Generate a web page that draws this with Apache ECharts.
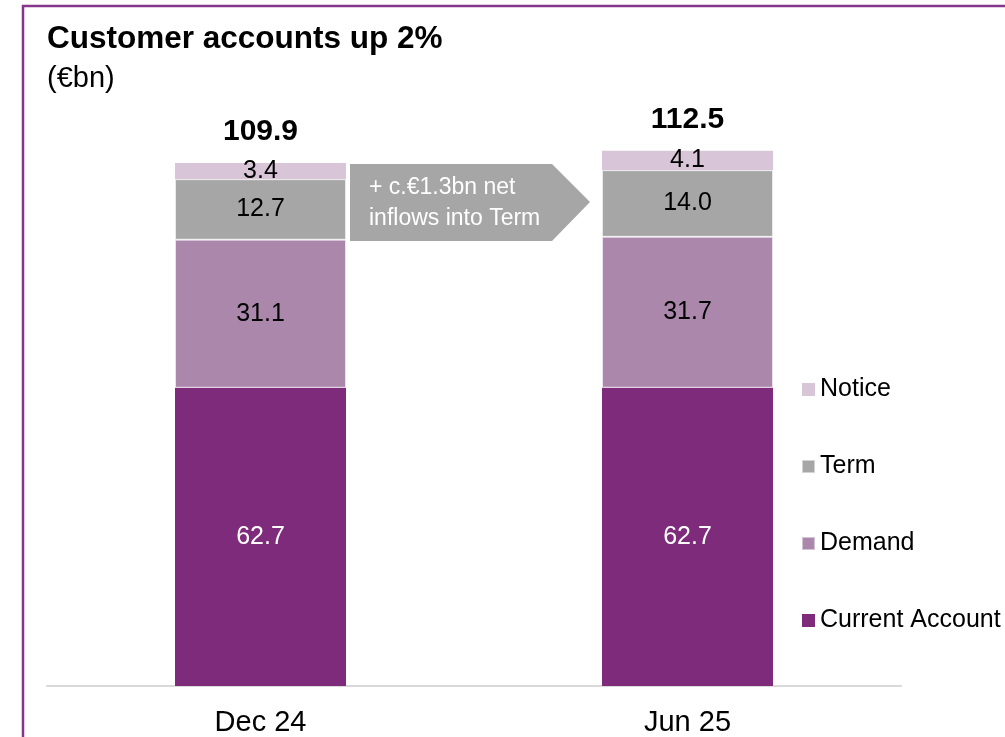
<!DOCTYPE html>
<html>
<head>
<meta charset="utf-8">
<script src="https://cdn.jsdelivr.net/npm/echarts@6/dist/echarts.min.js"></script>
<style>
  html, body { margin: 0; padding: 0; background: #fff; }
  #main { width: 1005px; height: 737px; }
</style>
</head>
<body>
<div id="main"></div>
<script>
// data
const categories = ['Dec 24', 'Jun 25']
const currentAccount = [62.7, 62.7]
const demand = [31.1, 31.7]
const term = [12.7, 14.0]
const notice = [3.4, 4.1]
const totals = [109.9, 112.5]

const FONT = '"Liberation Sans", Arial, sans-serif'

const oneDecimal = (p) => Number(p.value).toFixed(1)

const segLabel = (color) => ({
    show: true,
    position: 'inside',
    color: color,
    fontSize: 25,
    fontFamily: FONT,
    formatter: oneDecimal
})

var chartDom = document.getElementById('main')
var myChart = echarts.init(chartDom)

let option = {
    animation: false,
    backgroundColor: '#fff',
    textStyle: { fontFamily: FONT },
    grid: {
        left: 47,
        right: 104,
        top: 115,
        bottom: 51,
        containLabel: false
    },
    legend: {
        orient: 'vertical',
        left: 801,
        top: 377,
        padding: 0,
        itemWidth: 13,
        itemHeight: 13,
        itemGap: 52,
        icon: 'rect',
        selectedMode: false,
        data: ['Notice', 'Term', 'Demand', 'Current Account'],
        textStyle: {
            fontSize: 25,
            color: '#000',
            fontFamily: FONT,
            lineHeight: 25
        }
    },
    xAxis: {
        type: 'category',
        data: categories,
        axisLine: { show: true, lineStyle: { color: '#D9D9D9', width: 2 } },
        axisTick: { show: false },
        axisLabel: {
            fontSize: 29,
            color: '#000',
            margin: 22,
            fontFamily: FONT
        }
    },
    yAxis: {
        type: 'value',
        min: 0,
        max: 120,
        show: false,
        splitLine: { show: false }
    },
    series: [
        {
            name: 'Current Account',
            type: 'bar',
            stack: 'total',
            barWidth: 171,
            data: currentAccount,
            itemStyle: { color: '#7F2B7B' },
            label: segLabel('#fff')
        },
        {
            name: 'Demand',
            type: 'bar',
            stack: 'total',
            data: demand,
            itemStyle: { color: '#AB88AB', borderColor: 'rgba(255,255,255,0.5)', borderWidth: 1 },
            label: segLabel('#000')
        },
        {
            name: 'Term',
            type: 'bar',
            stack: 'total',
            data: term,
            itemStyle: { color: '#A6A6A6', borderColor: 'rgba(255,255,255,0.5)', borderWidth: 1 },
            label: segLabel('#000')
        },
        {
            name: 'Notice',
            type: 'bar',
            stack: 'total',
            data: notice,
            itemStyle: { color: '#D8C5D8' },
            label: segLabel('#000')
        },
        {
            // invisible bar just to carry the totals on top
            name: 'Total',
            type: 'bar',
            barGap: '-100%',
            barWidth: 171,
            z: 0,
            data: totals,
            itemStyle: { color: 'transparent' },
            label: {
                show: true,
                position: 'top',
                distance: 16,
                fontSize: 30,
                fontWeight: 'bold',
                color: '#000',
                fontFamily: FONT,
                formatter: oneDecimal
            },
            silent: true
        }
    ],
    graphic: [
        {
            // purple frame of the slide box
            type: 'rect',
            shape: { x: 23, y: 6, width: 1100, height: 900 },
            style: { fill: 'none', stroke: '#86368A', lineWidth: 2.5 },
            silent: true
        },
        {
            type: 'text',
            left: 47,
            top: 23,
            style: {
                text: 'Customer accounts up 2%',
                fontSize: 31.5,
                fontWeight: 'bold',
                fill: '#000',
                fontFamily: FONT
            }
        },
        {
            type: 'text',
            left: 47,
            top: 64,
            style: {
                text: '(€bn)',
                fontSize: 29,
                fill: '#000',
                fontFamily: FONT
            }
        },
        {
            // grey callout arrow
            type: 'polygon',
            shape: {
                points: [[350, 164], [552, 164], [590, 202], [552, 241], [350, 241]]
            },
            style: { fill: '#A6A6A6' },
            silent: true
        },
        {
            type: 'text',
            left: 369,
            top: 172,
            style: {
                text: '+ c.€1.3bn net\ninflows into Term',
                fontSize: 23,
                lineHeight: 31,
                fill: '#fff',
                fontFamily: FONT
            }
        }
    ]
}

option && myChart.setOption(option)
window.addEventListener('resize', () => {
    myChart.resize()
})
</script>
</body>
</html>
